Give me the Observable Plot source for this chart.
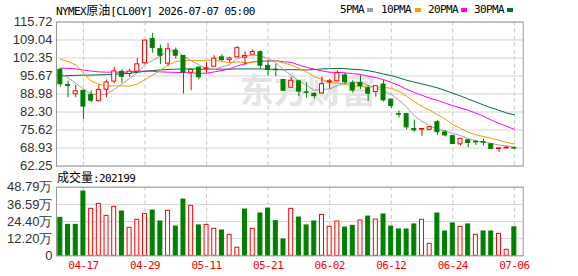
<!DOCTYPE html>
<html><head><meta charset="utf-8">
<script src="https://cdn.jsdelivr.net/npm/d3@7"></script>
<script src="https://cdn.jsdelivr.net/npm/@observablehq/plot@0.6"></script>
<style>
body{margin:0;background:#fff;}
#wrap{position:relative;width:578px;height:276px;overflow:hidden;}
#wrap svg{position:absolute;left:0;}
.mono{position:absolute;white-space:nowrap;font-family:"DejaVu Sans Mono",monospace;font-size:11px;letter-spacing:-0.6px;color:#000;line-height:14px;}
.cjk{font-family:"Noto Sans CJK SC",sans-serif;font-size:12px;letter-spacing:0;}
.sw{position:absolute;width:6px;height:4px;}
#vol g[aria-label^="x-axis"] text{fill:#ff0000;font-family:"DejaVu Sans Mono",monospace;font-size:11px;letter-spacing:-0.6px;}
</style></head><body><div id="wrap">
<div class="mono" style="left:56px;top:3px;">NYMEX<span class="cjk">原油</span>[CL00Y] 2026-07-07 05:00</div>
<div class="mono" style="left:340px;top:3px;">5PMA</div><div class="sw" style="left:367px;top:8px;background:#a0a0a0"></div>
<div class="mono" style="left:381px;top:3px;">10PMA</div><div class="sw" style="left:415px;top:8px;background:#f0a000"></div>
<div class="mono" style="left:428px;top:3px;">20PMA</div><div class="sw" style="left:461px;top:8px;background:#ff00ff"></div>
<div class="mono" style="left:474px;top:3px;">30PMA</div><div class="sw" style="left:507px;top:8px;background:#00703c"></div>
<div class="mono" style="left:57px;top:170px;"><span class="cjk">成交量</span>:202199</div>
</div>
<script>
const dates = ["04-14","04-15","04-16","04-17","04-20","04-21","04-22","04-23","04-24","04-27",
"04-28","04-29","04-30","05-01","05-04","05-05","05-06","05-07","05-08","05-11",
"05-12","05-13","05-14","05-15","05-18","05-19","05-20","05-21","05-22","05-25",
"05-26","05-27","05-28","05-29","06-01","06-02","06-03","06-04","06-05","06-08",
"06-09","06-10","06-11","06-12","06-15","06-16","06-17","06-18","06-19","06-22",
"06-23","06-24","06-25","06-26","06-29","06-30","07-01","07-02","07-03","07-06"];
const open = [98.0,92.3,88.86,90.1,88.6,86.3,90.6,93.6,97.2,96.4,
97.3,100.4,109.4,105.6,100.25,105.1,103.1,96.9,98.8,98.3,
99.1,102.6,101.6,102.6,102.5,103.6,104.5,99.4,98.0,94.2,
91.3,93.7,89.6,89.0,89.2,93.3,93.7,95.9,92.9,93.1,
91.1,89.7,92.5,86.9,81.5,81.5,76.0,75.75,75.7,78.5,
74.7,73.35,70.3,71.8,71.2,71.1,70.3,68.57,68.8,68.9];
const high = [98.4,93.8,92.2,90.5,90.2,92.3,94.2,99.0,98.1,98.1,
102.2,109.0,111.5,107.2,107.8,106.1,103.2,97.9,98.9,100.7,
103.2,103.6,102.7,106.6,104.7,105.3,105.0,101.4,100.0,94.3,
95.2,93.9,93.2,89.5,95.2,94.4,97.6,96.6,93.9,95.8,
92.1,92.0,93.9,87.0,82.6,81.6,79.3,76.2,76.9,79.1,
75.4,73.35,72.6,72.0,71.75,72.25,70.4,68.9,69.4,69.3];
const low = [91.5,87.6,87.6,79.5,85.8,86.3,87.7,92.8,92.9,95.2,
96.7,100.0,104.1,99.9,99.1,101.9,89.0,90.2,94.3,96.7,
99.1,100.9,100.6,102.6,99.4,103.6,98.3,95.7,95.4,89.9,
91.3,88.0,87.4,87.1,89.0,90.7,93.7,92.7,89.3,90.6,
86.2,87.8,86.0,83.6,80.1,75.6,74.8,73.2,75.4,73.6,
73.0,70.3,69.7,69.0,69.8,69.7,68.45,67.3,68.57,68.6];
const close = [92.6,92.0,89.98,84.3,86.5,90.5,93.3,97.4,95.4,97.3,
100.0,108.8,106.1,103.2,105.6,103.2,96.9,97.9,95.2,98.5,
102.1,101.6,102.2,106.0,103.1,104.6,99.5,97.9,97.8,90.2,
93.9,89.9,89.4,88.2,92.6,93.7,96.7,93.3,90.3,91.9,
89.1,91.9,86.6,84.5,81.3,76.6,75.5,76.0,76.66,74.8,
73.6,70.4,72.25,70.8,71.0,70.9,68.57,68.8,69.06,68.7];
// volume in 万
const volume = [27.0,22.0,22.0,45.7,33.4,36.9,28.4,34.8,31.5,19.9,
25.6,29.8,32.2,24.4,32.0,20.8,40.0,35.5,21.6,22.0,
19.2,18.0,14.9,5.7,32.9,19.2,30.1,33.6,24.6,11.6,
33.4,27.2,21.6,24.4,29.1,20.6,24.4,20.1,21.3,25.1,
27.9,25.8,29.4,20.8,18.7,18.7,22.3,25.6,8.5,30.1,
17.3,23.0,20.6,22.3,14.9,17.3,17.3,15.6,4.3,20.22];
const ma5 = [96.6,95.0,93.0,90.8,89.0,88.6,89.0,90.6,92.6,94.8,
96.8,99.9,101.5,103.1,104.7,105.4,103.0,101.4,99.8,98.3,
98.1,99.1,99.9,102.1,103.0,103.5,103.1,102.2,100.6,98.0,
95.9,93.9,92.2,90.3,90.8,90.8,92.1,92.9,93.3,93.2,
92.3,91.3,90.0,88.8,86.7,84.2,80.9,78.8,77.2,75.9,
75.3,74.3,73.6,72.4,71.6,71.1,70.7,70.0,69.7,69.2];
const ma10 = [101.9,101.0,99.8,96.7,93.8,92.6,92.0,92.0,92.0,91.9,
92.7,94.35,96.0,97.85,99.8,101.0,101.4,101.4,101.4,101.5,
101.75,101.0,100.6,100.9,100.7,100.8,101.1,101.1,101.3,100.5,
99.7,98.5,97.2,95.45,94.4,93.3,93.0,92.6,91.8,92.0,
91.5,91.7,91.4,91.1,89.9,88.2,86.1,84.4,83.0,81.3,
79.75,77.6,76.2,74.8,73.8,73.2,72.5,71.8,71.0,70.4];
const ma20 = [98.6,98.5,98.3,97.9,97.5,97.2,97.1,97.1,97.1,97.2,
97.4,97.5,97.4,97.2,97.1,97.0,96.9,96.8,96.7,96.7,
97.2,97.7,98.3,99.4,100.25,100.9,101.25,101.25,101.35,101.0,
100.7,99.75,98.9,98.2,97.55,97.05,97.05,96.85,96.55,96.25,
95.6,95.1,94.3,93.3,92.15,90.75,89.55,88.5,87.4,86.65,
85.6,84.65,83.8,82.95,81.85,80.7,79.3,78.1,77.0,75.85];
const ma30 = [95.7,95.8,95.9,96.0,96.0,96.1,96.2,96.3,96.5,96.7,
97.0,97.4,97.7,97.9,98.1,98.2,98.3,98.3,98.2,98.2,
98.2,98.2,98.2,98.3,98.3,98.3,98.3,98.2,98.1,97.97,
98.05,97.95,97.93,98.07,98.3,98.37,98.5,98.37,98.17,98.0,
97.65,97.07,96.4,95.82,95.0,94.1,93.4,92.7,92.03,91.27,
90.3,89.27,88.27,87.12,86.03,84.9,83.87,82.93,81.93,81.23];
const priceTicks = [62.25,68.93,75.62,82.30,88.98,95.67,102.35,109.04,115.72];
const volTicks = [0,12.20,24.40,36.59,48.79];
const dateTicks = ["04-17","04-29","05-11","05-21","06-02","06-12","06-24","07-06"];

const RED = "#ff0000", GREEN = "#008000";
const rows = dates.map((d, i) => ({i, date: d, o: open[i], h: high[i], l: low[i], c: close[i], v: volume[i]}));
rows.forEach((r, i) => { r.up = r.c >= r.o; r.vup = i === 0 ? r.up : r.c >= rows[i - 1].c; });
const upRows = rows.filter(d => d.up), dnRows = rows.filter(d => !d.up);
const vUp = rows.filter(d => d.vup), vDn = rows.filter(d => !d.vup);
const tickIdx = dateTicks.map(t => dates.indexOf(t));
const xDomain = [-0.5, 60.15];
const W = 578, ML = 56, MR = 55.3;
const bx1 = d => d.i - 0.5, bx2 = d => d.i + 0.5;
const ins = 1.85;

const price = Plot.plot({
  width: W, height: 168, marginLeft: ML, marginRight: MR, marginTop: 21.5, marginBottom: 2.5,
  style: {fontFamily: "'Liberation Sans', Arial, sans-serif", fontSize: "13px", color: "#333", background: "transparent", overflow: "visible"},
  x: {type: "linear", domain: xDomain, axis: null},
  y: {domain: [62.25, 115.72], ticks: priceTicks, tickFormat: d => d.toFixed(2), tickSize: 0, tickPadding: 4, label: null},
  marks: [
    Plot.ruleY(priceTicks, {stroke: "#d4d4d4"}),
    Plot.ruleX(tickIdx, {stroke: "#c8c8c8", strokeDasharray: "4,3"}),
    Plot.text(["东方财富"], {frameAnchor: "middle", dx: 18, dy: -2, fontSize: 34, fontWeight: "bold", fill: "#e4e4e4", fontFamily: "'Noto Sans CJK SC', sans-serif"}),
    Plot.lineY(ma30, {stroke: "#00703c", strokeWidth: 1}),
    Plot.lineY(ma20, {stroke: "#ff00ff", strokeWidth: 1}),
    Plot.lineY(ma10, {stroke: "#f0a000", strokeWidth: 1}),
    Plot.lineY(ma5, {stroke: "#a0a0a0", strokeWidth: 1}),
    Plot.ruleX(upRows, {x: "i", y1: "l", y2: "h", stroke: RED}),
    Plot.ruleX(dnRows, {x: "i", y1: "l", y2: "h", stroke: GREEN}),
    Plot.rect(upRows, {x1: bx1, x2: bx2, y1: "o", y2: "c", insetLeft: ins, insetRight: ins, fill: "white", stroke: RED}),
    Plot.rect(dnRows, {x1: bx1, x2: bx2, y1: "o", y2: "c", insetLeft: ins, insetRight: ins, fill: GREEN, stroke: GREEN}),
    Plot.frame({stroke: "#999"})
  ]
});
price.style.top = "0px";

const vol = Plot.plot({
  width: W, height: 108, marginLeft: ML, marginRight: MR, marginTop: 18.7, marginBottom: 20.7,
  style: {fontFamily: "'Liberation Sans', Arial, sans-serif", fontSize: "13px", color: "#333", background: "transparent", overflow: "visible"},
  x: {type: "linear", domain: xDomain, ticks: tickIdx, tickFormat: i => dates[i], tickSize: 0, tickPadding: 5, label: null},
  y: {domain: [0, 48.79], ticks: volTicks, tickFormat: d => d === 0 ? "0" : d.toFixed(2) + "万", tickSize: 0, tickPadding: 4, label: null},
  marks: [
    Plot.ruleY(volTicks, {stroke: "#d4d4d4"}),
    Plot.ruleX(tickIdx, {stroke: "#c8c8c8", strokeDasharray: "4,3"}),
    Plot.rect(vUp, {x1: bx1, x2: bx2, y1: 0, y2: "v", insetLeft: ins, insetRight: ins, fill: "white", stroke: RED}),
    Plot.rect(vDn, {x1: bx1, x2: bx2, y1: 0, y2: "v", insetLeft: ins, insetRight: ins, fill: GREEN, stroke: GREEN}),
    Plot.frame({stroke: "#999"})
  ]
});
vol.id = "vol";
vol.style.top = "168px";
const wrap = document.getElementById("wrap");
wrap.insertBefore(price, wrap.firstChild);
wrap.insertBefore(vol, wrap.firstChild);
</script>
</body></html>
